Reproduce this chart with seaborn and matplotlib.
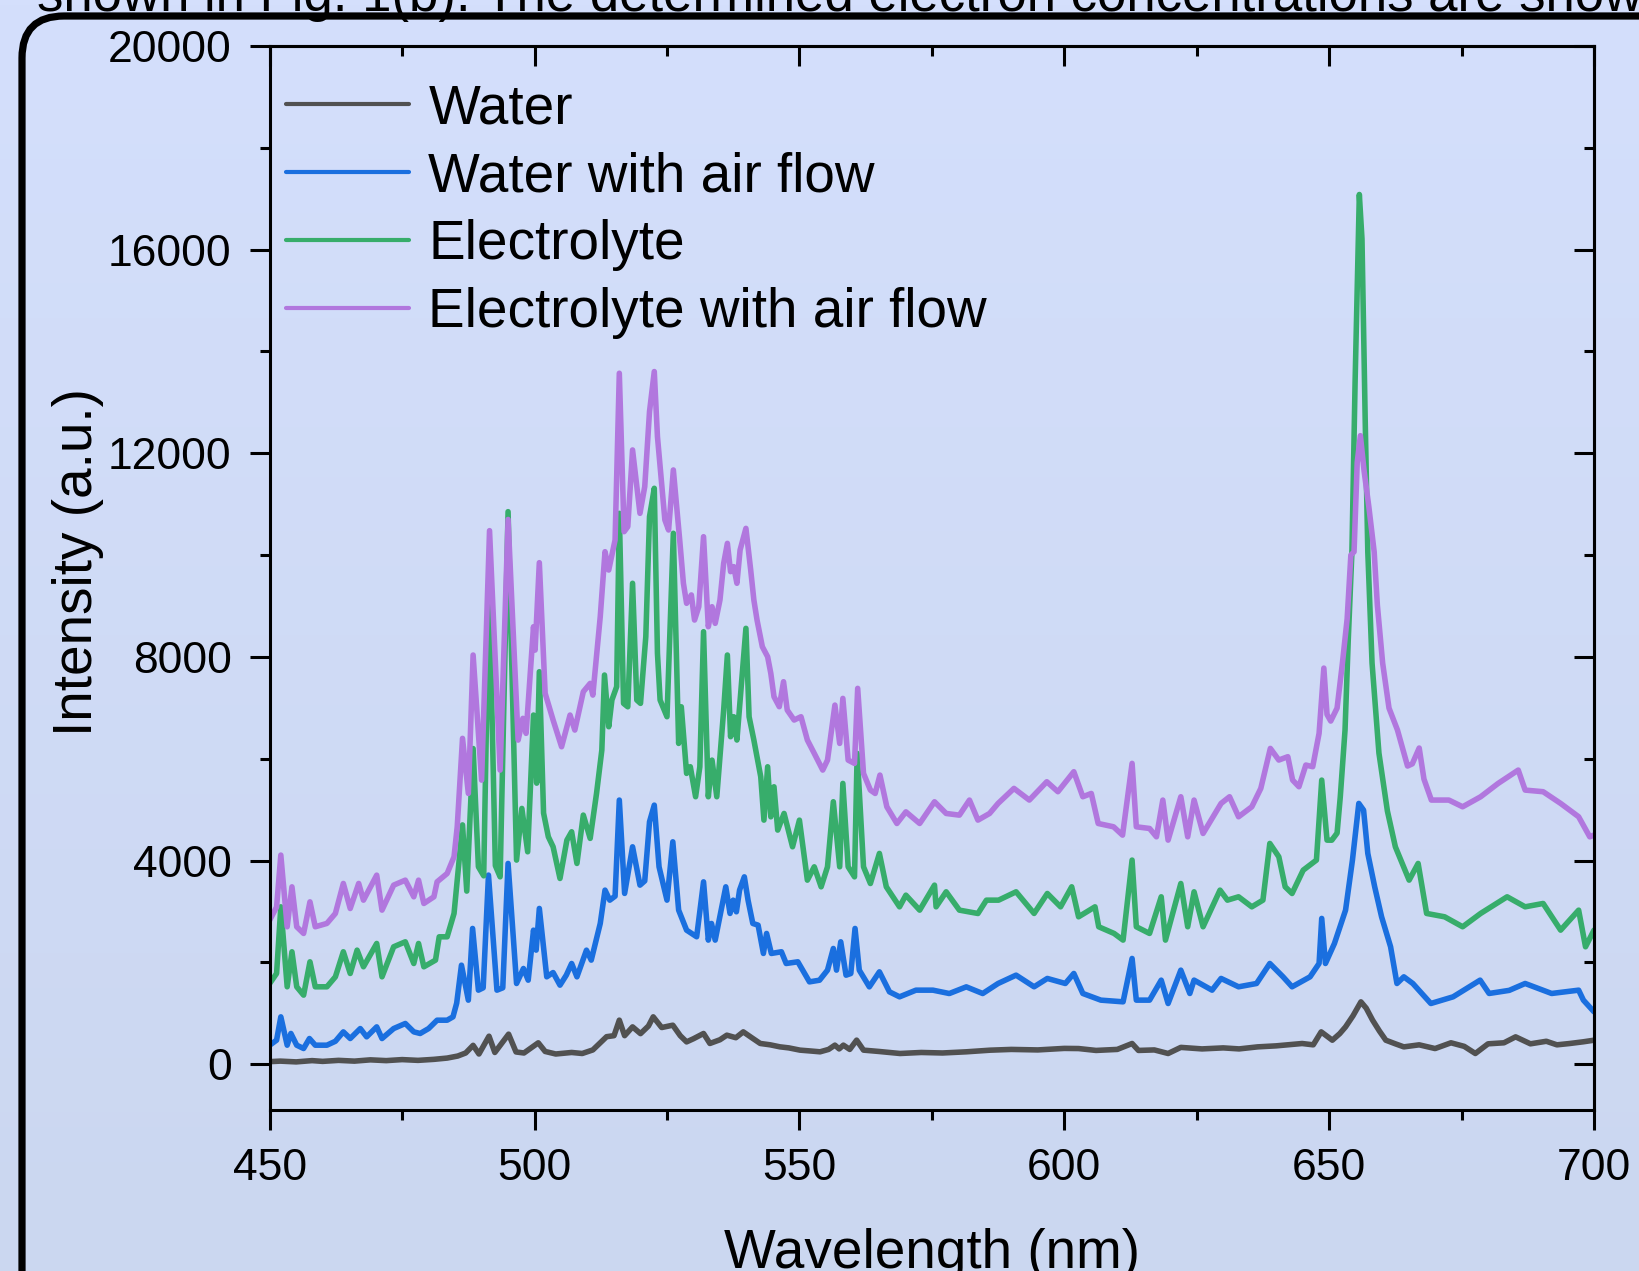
# ==========================================
# OES SPECTRA - WATER / ELECTROLYTE
# ==========================================

import numpy as np
import matplotlib
matplotlib.use("Agg")
import matplotlib.pyplot as plt
from matplotlib.patches import FancyBboxPatch
from matplotlib.ticker import MultipleLocator
from matplotlib.transforms import IdentityTransform
import seaborn as sns

# ==========================================
# DATA
# ==========================================

water_wl = [450, 452, 455, 458, 460, 463, 466, 469, 472, 475, 478, 481, 483.5, 485.5,
            487, 488.4, 489.5, 491.4, 492.5, 495.1, 496.5, 498, 500.7, 502, 504, 507,
            509, 511, 513.6, 515, 516, 517, 518.5, 520, 521.5, 522.4, 524, 526.1, 527.5,
            528.7, 530, 531.9, 533.1, 535, 536.3, 538, 539.4, 541, 542.6, 544.5, 546.3,
            548, 550.1, 552, 553.9, 555.5, 556.7, 557.5, 558.3, 559.5, 560.8, 562.1,
            565, 569, 573, 577, 581.5, 586, 590, 595, 600, 602.7, 606, 610, 612.8, 614,
            617, 619.6, 622, 626, 630, 633, 636.5, 640, 644.9, 647, 648.5, 650.6, 652,
            653.1, 654.5, 656, 657, 658.2, 659.5, 660.7, 662.5, 664.1, 667, 670, 673,
            675.5, 677.6, 680, 683, 685.2, 688, 691, 693, 695.4, 698, 700]
water_int = [50, 60, 45, 70, 55, 75, 60, 85, 70, 90, 75, 95, 120, 160,
             220, 370, 200, 550, 230, 590, 240, 220, 420, 250, 200, 230,
             210, 280, 540, 560, 865, 560, 733, 600, 750, 930, 720, 766, 560,
             438, 500, 603, 407, 480, 570, 520, 635, 520, 407, 380, 341,
             320, 276, 260, 243, 290, 374, 300, 374, 290, 472, 276,
             250, 210, 230, 220, 243, 275, 290, 280, 310, 307, 270, 290, 406, 270,
             280, 210, 330, 300, 320, 300, 340, 360, 406, 380, 635, 471, 600,
             733, 950, 1224, 1100, 865, 650, 471, 400, 340, 380, 307, 420,
             350, 210, 400, 420, 537, 400, 450, 380, 406, 440, 471]

air_wl = [450, 451.3, 452.1, 453.3, 454, 455.1, 456.4, 457.5, 458.6, 460.8, 462.4, 463.9,
          465.2, 467.1, 468.3, 470.2, 471.2, 473.4, 475.6, 477.2, 478.4, 480, 481.6,
          483.5, 484.6, 485.3, 486.2, 487.5, 488.3, 489.4, 490.3, 491.3, 492.9, 494,
          495.0, 496.6, 497.9, 498.8, 499.8, 500.3, 500.9, 502.3, 503.5, 504.8, 506,
          507, 508, 509.8, 510.7, 512.4, 513.3, 514.2, 515.2, 516.0, 517, 518.5, 519.9,
          520.8, 521.7, 522.6, 523.5, 525, 526.1, 527.2, 528.7, 530.6, 531.9, 532.8,
          533.4, 534.1, 535.6, 536.1, 536.9, 537.5, 538.1, 538.7, 539.6, 540.3, 541.2,
          542.2, 543.2, 543.8, 544.7, 546.6, 547.5, 549.7, 551.9, 553.8, 555.3, 556.4,
          557, 557.8, 558.8, 559.7, 560.5, 561.3, 563.2, 565.1, 567, 568.9, 572, 575.2,
          578.3, 581.5, 584.6, 587.5, 590.9, 594.3, 596.8, 600.2, 601.8, 603.5, 606.9,
          611.1, 612.8, 613.6, 616.1, 618.3, 619.6, 622, 623.7, 624.5, 627.9, 629.6,
          632.9, 636.3, 638.8, 641.3, 643, 646.4, 648.1, 648.6, 649.3, 651, 653.1,
          654.4, 655.6, 656.5, 657.3, 658.6, 659.9, 661.6, 662.8, 664.1, 665.8, 669.2,
          673.4, 678.5, 680.2, 684, 687, 692, 697.1, 698, 700]
air_int = [373, 472, 930, 373, 603, 373, 308, 504, 373, 373, 450, 635,
           504, 700, 537, 733, 504, 700, 799, 635, 603, 700, 864,
           864, 930, 1200, 1945, 1257, 2666, 1454, 1500, 3714, 1454, 1500,
           3943, 1585, 1880, 1650, 2633, 2240, 3059, 1716, 1800, 1552, 1750,
           1978, 1716, 2240, 2044, 2764, 3419, 3222, 3300, 5188, 3354, 4270, 3517,
           3600, 4761, 5089, 3877, 3222, 4368, 3026, 2633, 2503, 3582, 2437,
           2764, 2437, 3222, 3484, 2961, 3222, 2993, 3419, 3680, 3222, 2764,
           2731, 2175, 2568, 2175, 2208, 1978, 2011, 1617, 1650, 1847, 2273,
           1847, 2404, 1748, 1781, 2666, 1847, 1519, 1814, 1421, 1323, 1454, 1454,
           1388, 1519, 1388, 1585, 1749, 1520, 1684, 1585, 1782, 1389, 1258,
           1225, 2077, 1258, 1258, 1651, 1192, 1847, 1389, 1651, 1454, 1684,
           1520, 1585, 1978, 1716, 1520, 1716, 1978, 2863, 1978, 2371, 3026,
           4009, 5122, 4990, 4139, 3484, 2895, 2306, 1585, 1716, 1585, 1192,
           1323, 1651, 1389, 1450, 1585, 1389, 1454, 1258, 1029]

elec_wl = [450, 451.3, 452.1, 453.3, 454.2, 455.1, 456.4, 457.6, 458.6, 460.8, 462.4,
           463.9, 465.2, 466.5, 467.7, 470.2, 471.2, 473.4, 475.6, 477.2, 478.1, 479.1,
           481.3, 482, 483.5, 484.8, 485.4, 486.4, 487.2, 488.4, 489.4, 490.4, 491.4,
           492.6, 493.5, 495.0, 496.6, 497.6, 498.7, 499.8, 500.4, 500.9, 501.7, 502.6,
           503.5, 504.8, 506.1, 507, 508, 509.2, 510.5, 511.7, 512.7, 513.2, 514, 514.6,
           515.5, 516.0, 516.8, 517.6, 518.5, 519.3, 520, 521, 521.7, 522.6, 523.2,
           523.7, 525, 526.2, 527.2, 527.7, 528.7, 529.4, 530.4, 531.2, 531.9, 532.8,
           533.5, 534.4, 535.7, 536.4, 537, 537.6, 538.2, 539.2, 539.9, 540.5, 541.4,
           542.7, 543.3, 544, 544.6, 545.2, 545.9, 547.1, 548.7, 550, 551.5, 552.8,
           554.1, 555.3, 556.4, 557.6, 558.2, 559.2, 560.4, 560.9, 562.1, 563.4, 565.1,
           566.4, 568.9, 570.1, 572.7, 575.5, 575.8, 577.7, 580.2, 583.7, 585.3, 587.6,
           590.9, 594.3, 596.8, 599.3, 601.4, 602.7, 605.8, 606.5, 609.4, 611.1, 612.8,
           613.6, 616.1, 618.3, 619.1, 622, 623.3, 624.5, 626.2, 629.4, 630.8, 632.9,
           635.4, 637.5, 638.8, 640.5, 641.7, 643, 645.1, 647.6, 648.6, 649.6, 650.5,
           651.5, 652.1, 653, 653.6, 654.3, 654.9, 655.7, 656.2, 656.8, 657.3, 658.1,
           659.4, 661, 662.5, 665.1, 666.8, 668.4, 671.8, 675.2, 678.6, 683.6, 687,
           690.4, 693.7, 697.1, 698.4, 700]
elec_int = [1585, 1782, 3091, 1520, 2208, 1520, 1356, 2011, 1520, 1520, 1716,
            2208, 1782, 2240, 1913, 2371, 1716, 2306, 2404, 1978, 2371, 1913,
            2044, 2502, 2502, 2961, 3615, 4700, 3400, 6200, 3877, 3700, 9500,
            3900, 3680, 10853, 4009, 5024, 4172, 6858, 5520, 7709, 4932, 4467,
            4270, 3648, 4400, 4565, 3943, 4893, 4435, 5319, 6170, 7644, 6628, 7153,
            7415, 10820, 7087, 7020, 9446, 7153, 7087, 8397, 10755, 11312, 8069,
            7153, 6825, 10428, 6301, 7020, 5712, 5843, 5253, 5842, 8495, 5253,
            5973, 5253, 6956, 8037, 6432, 6825, 6367, 7644, 8561, 6825, 6367,
            5645, 4794, 5842, 4859, 5449, 4598, 4925, 4270, 4794, 3615, 3877,
            3484, 3877, 5155, 3877, 5515, 3877, 3680, 6105, 3877, 3549, 4140,
            3484, 3091, 3320, 3026, 3517, 3091, 3386, 3026, 2960, 3222, 3222,
            3386, 2961, 3353, 3091, 3484, 2895, 3091, 2699, 2568, 2437, 4009,
            2699, 2568, 3288, 2437, 3549, 2699, 3386, 2699, 3419, 3222, 3288,
            3091, 3222, 4336, 4074, 3484, 3353, 3811, 4009, 5580, 4401, 4400,
            4539, 5247, 6563, 8312, 10064, 13401, 17083, 16211, 12694, 10060, 7880,
            6111, 4972, 4270, 3615, 3943, 2961, 2895, 2699, 2961, 3288, 3091,
            3157, 2633, 3026, 2306, 2633]

elec_air_wl = [450, 451.3, 452.1, 453.3, 454.2, 455.1, 456.4, 457.6, 458.6, 460.8, 462.4,
               463.9, 465.2, 466.8, 467.7, 470.2, 471.2, 473.4, 475.6, 477.2, 478.1, 479.1,
               481, 481.6, 483.5, 484.8, 485.4, 486.4, 487.5, 488.4, 490.0, 491.5, 493.5,
               495.0, 496.9, 497.8, 498.4, 499.8, 500.1, 500.9, 502, 503.5, 505.1, 506.7,
               507.6, 509.2, 510.5, 511, 512.4, 513.3, 514, 515.2, 516.0, 516.9, 517.6,
               518.5, 519.9, 520.8, 521.7, 522.6, 523.2, 524.6, 525.3, 526.2, 527.4, 528.1,
               528.7, 529.6, 530.2, 531, 531.9, 532.8, 533.5, 534.1, 535, 535.7, 536.4, 537,
               537.6, 538.2, 538.8, 539.9, 540.8, 541.4, 542, 543, 544, 544.6, 545.2, 546.2,
               547, 547.7, 549, 550.3, 551.5, 552.8, 554.4, 555.3, 556.7, 557.6, 558.2,
               559.2, 560.4, 561, 562.1, 563.4, 564.3, 565.2, 566.5, 568.4, 570.1, 572.7,
               575.5, 577.7, 580.2, 582.1, 583.7, 585.9, 587.5, 590.5, 593.4, 596.7, 598.8,
               601.8, 603.5, 605.1, 606.4, 609.3, 611, 612.8, 613.6, 616.1, 617.4, 618.6,
               619.6, 622, 623.3, 624.5, 626.2, 629.6, 631.2, 632.9, 635.4, 637.1, 638.9,
               640.5, 642.2, 643.1, 644.3, 645.6, 646.9, 648.1, 649, 649.6, 650.3, 651.5,
               652.5, 653.4, 654.1, 654.7, 655.3, 655.9, 656.6, 657.5, 658.5, 659.1, 660.1,
               661.3, 662.9, 664.8, 665.7, 667, 667.9, 669.3, 672.6, 675.2, 678.6, 681.9,
               685.7, 687, 690.4, 693.7, 697.1, 699.2, 700]
elec_air_int = [2830, 3087, 4107, 2699, 3484, 2699, 2568, 3189, 2699, 2765, 2961,
                3550, 3058, 3550, 3222, 3713, 3026, 3517, 3615, 3288, 3615, 3157,
                3288, 3582, 3746, 4074, 4663, 6400, 5319, 8037, 5580, 10480, 5777,
                10700, 6366, 6793, 6498, 8593, 8134, 9851, 7284, 6760, 6235, 6858,
                6563, 7316, 7480, 7250, 8790, 10067, 9706, 10296, 13572, 10460, 10558,
                12065, 10820, 11345, 12818, 13605, 12327, 10690, 10493, 11672, 10296, 9446,
                9053, 9217, 8724, 8986, 10361, 8593, 8986, 8659, 9118, 9838, 10231, 9675,
                9773, 9446, 10100, 10525, 9708, 9118, 8724, 8200, 8003, 7676, 7218, 7022,
                7513, 6956, 6760, 6825, 6367, 6105, 5777, 5973, 7054, 6301, 7185,
                5973, 5908, 7382, 5711, 5384, 5318, 5679, 5056, 4728, 4957, 4728,
                5155, 4925, 4892, 5188, 4794, 4925, 5122, 5417, 5188, 5548, 5352,
                5745, 5253, 5318, 4728, 4663, 4499, 5909, 4663, 4630, 4466, 5188,
                4401, 5253, 4466, 5188, 4532, 5122, 5253, 4860, 5056, 5417, 6203,
                5974, 6040, 5581, 5450, 5876, 5843, 6498, 7780, 6870, 6740, 6995,
                7872, 8748, 10000, 10064, 11820, 12346, 11652, 10945, 10064, 9022, 7880,
                6995, 6563, 5856, 5900, 6210, 5600, 5188, 5188, 5056, 5253, 5515,
                5777, 5384, 5352, 5122, 4860, 4466, 4500]

labels = ["Water", "Water with air flow", "Electrolyte", "Electrolyte with air flow"]
colors = ["#515151", "#1A6FDF", "#37AD6B", "#B177DE"]

# ==========================================
# STYLE
# ==========================================

sns.set_theme(style="ticks")
plt.rcParams['font.family'] = ['Liberation Sans', 'DejaVu Sans']
plt.rcParams['text.color'] = "black"
plt.rcParams['axes.labelcolor'] = "black"
plt.rcParams['xtick.color'] = "black"
plt.rcParams['ytick.color'] = "black"

W, H = 1639, 1271
fig = plt.figure(figsize=(W / 100, H / 100), dpi=100)

# background gradient over the whole page
bg = fig.add_axes([0, 0, 1, 1], zorder=-10)
top_col = np.array([212, 223, 252]) / 255
bot_col = np.array([203, 215, 240]) / 255
t = np.linspace(0, 1, 256)[:, None]
grad = (top_col[None, :] * (1 - t) + bot_col[None, :] * t)[:, None, :]
bg.imshow(grad, aspect="auto", extent=[0, 1, 0, 1])
bg.axis("off")

# rounded frame, cut by the page edges
frame = FancyBboxPatch((22, -300), 2000, H - 16 + 300,
                       boxstyle="round,pad=0,rounding_size=42",
                       transform=IdentityTransform(), facecolor="none",
                       edgecolor="black", linewidth=5.2, zorder=1)
fig.add_artist(frame)

# caption text from the page above, only partly visible
fig.text(0.0226, 1 - 11 / H,
         "shown in Fig. 1(b). The determined electron concentrations are show",
         fontsize=38, ha="left", va="baseline", color="black")

# ==========================================
# MAIN PLOT
# ==========================================

ax = fig.add_axes([269.7 / W, 1 - 1110 / H, (1594 - 269.7) / W, (1110 - 46) / H])
ax.set_facecolor("none")

series = [(water_wl, water_int), (air_wl, air_int),
          (elec_wl, elec_int), (elec_air_wl, elec_air_int)]

for (wl, inten), lab, col in zip(series, labels, colors):
    sns.lineplot(x=wl, y=inten, color=col, label=lab,
                 estimator=None, sort=False, ax=ax)

# thick spectrum lines
for line in ax.lines:
    line.set_linewidth(4.0)
    line.set_solid_joinstyle("round")

ax.set_xlim(450, 700)
ax.set_ylim(-900, 20000)

ax.xaxis.set_major_locator(MultipleLocator(50))
ax.xaxis.set_minor_locator(MultipleLocator(25))
ax.yaxis.set_major_locator(MultipleLocator(4000))
ax.yaxis.set_minor_locator(MultipleLocator(2000))

for side in ["left", "right", "top", "bottom"]:
    ax.spines[side].set_visible(True)
    ax.spines[side].set_linewidth(2.2)
    ax.spines[side].set_color("black")

ax.tick_params(axis="both", which="major", length=14.4, width=2.2,
               labelsize=32, colors="black", pad=13)
ax.tick_params(axis="both", which="minor", length=7.2, width=2.2, colors="black")
ax.tick_params(axis="x", which="both", direction="out", bottom=True, top=False)
ax.tick_params(axis="y", which="both", direction="out", left=True, right=False)

# inward ticks on top and right through secondary axes
axt = ax.secondary_xaxis("top")
axt.xaxis.set_major_locator(MultipleLocator(50))
axt.xaxis.set_minor_locator(MultipleLocator(25))
axt.tick_params(axis="x", which="major", direction="in", length=14.4, width=2.2,
                labeltop=False)
axt.tick_params(axis="x", which="minor", direction="in", length=7.2, width=2.2)
axt.spines["top"].set_linewidth(2.2)

axr = ax.secondary_yaxis("right")
axr.yaxis.set_major_locator(MultipleLocator(4000))
axr.yaxis.set_minor_locator(MultipleLocator(2000))
axr.tick_params(axis="y", which="major", direction="in", length=14.4, width=2.2,
                labelright=False)
axr.tick_params(axis="y", which="minor", direction="in", length=7.2, width=2.2)
axr.spines["right"].set_linewidth(2.2)

ax.set_xlabel("Wavelength (nm)", fontsize=39.5, labelpad=28)
ax.set_ylabel("Intensity (a.u.)", fontsize=39.5)
ax.yaxis.set_label_coords(-0.145, 0.515)
ax.yaxis.label.set_va("center")

leg = ax.legend(loc="upper left", bbox_to_anchor=(0.0125, 0.965), frameon=False,
                fontsize=39.5, handlelength=2.24, handletextpad=0.35,
                labelspacing=0.29, borderpad=0, borderaxespad=0)
for line in leg.get_lines():
    line.set_linewidth(3.0)

plt.savefig("out.png", dpi=100)
plt.close()
